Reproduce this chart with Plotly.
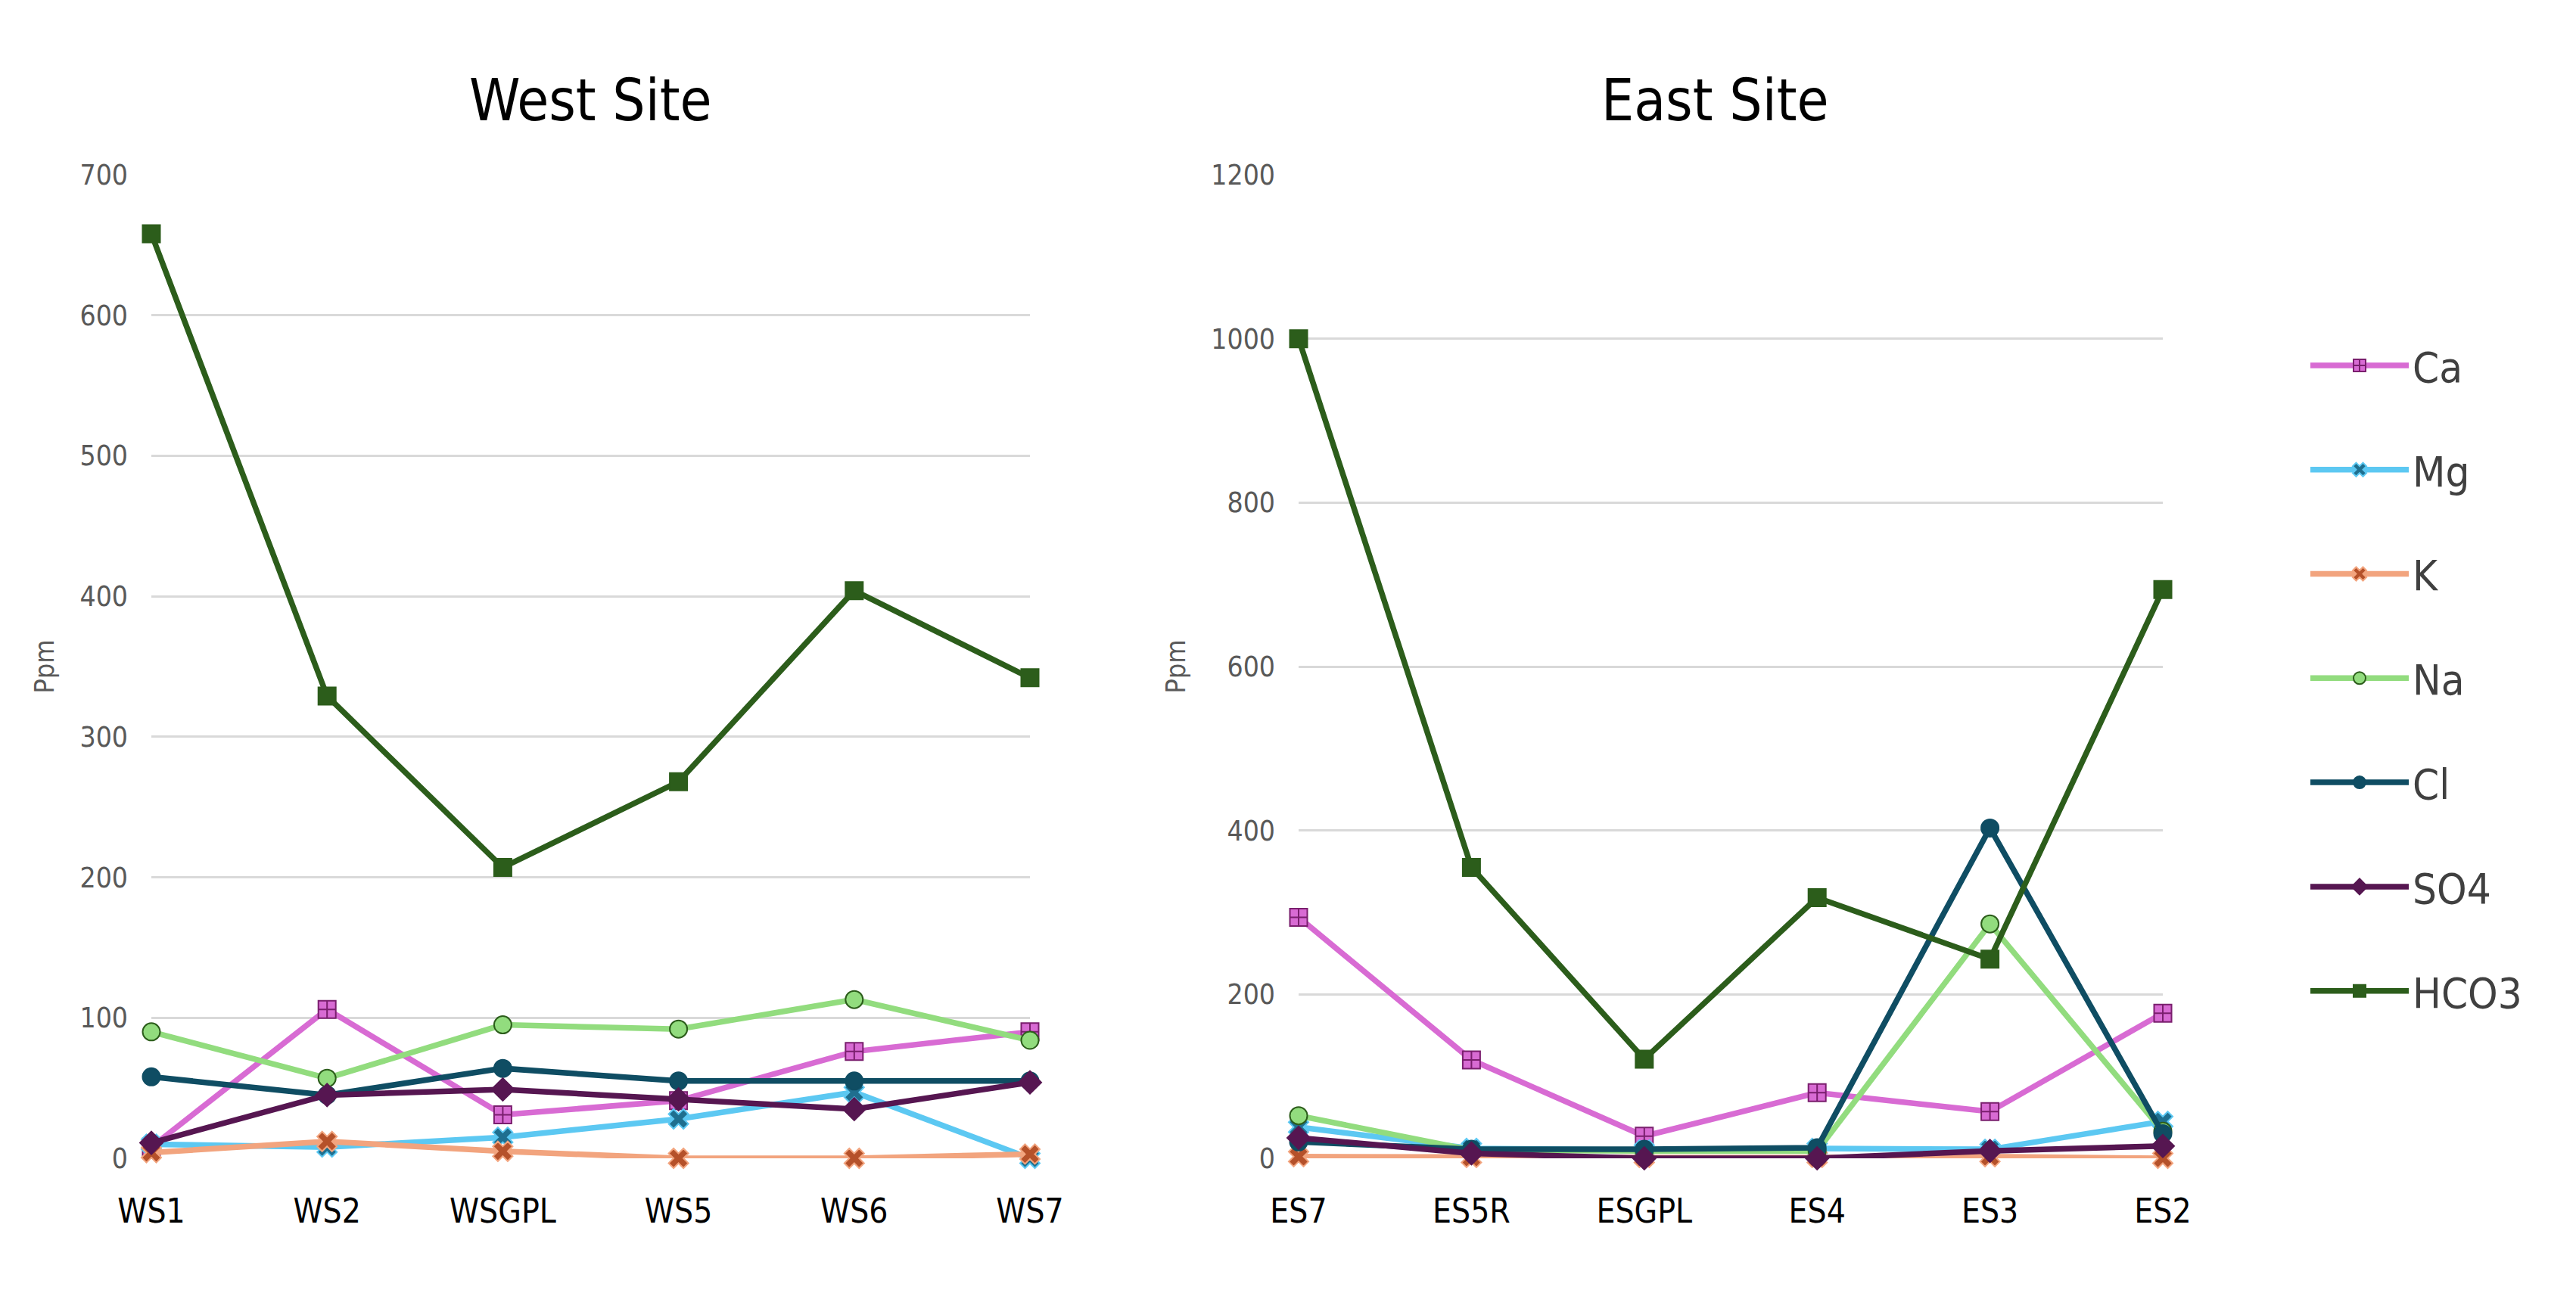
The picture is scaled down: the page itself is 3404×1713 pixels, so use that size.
import plotly.graph_objects as go

# ---- data ----
west_sites = ["WS1", "WS2", "WSGPL", "WS5", "WS6", "WS7"]
east_sites = ["ES7", "ES5R", "ESGPL", "ES4", "ES3", "ES2"]

ions = ["Ca", "Mg", "K", "Na", "Cl", "SO4", "HCO3"]

west_Ca = [8, 106, 31, 41, 76, 90]
west_Mg = [10, 8, 15, 28, 47, 0]
west_K = [4, 12, 5, 0, 0, 3]
west_Na = [90, 57, 95, 92, 113, 84]
west_Cl = [58, 45, 64, 55, 55, 55]
west_SO4 = [11, 45, 49, 42, 35, 54]
west_HCO3 = [658, 329, 207, 268, 404, 342]

east_Ca = [294, 120, 27, 80, 57, 177]
east_Mg = [38, 12, 10, 12, 11, 45]
east_K = [2, 1, 1, 1, 2, 0]
east_Na = [52, 10, 9, 9, 286, 33]
east_Cl = [20, 11, 11, 13, 403, 30]
east_SO4 = [25, 6, 0, 0, 9, 15]
east_HCO3 = [1000, 355, 121, 318, 243, 694]

west_y_ticks = [0, 100, 200, 300, 400, 500, 600, 700]
east_y_ticks = [0, 200, 400, 600, 800, 1000, 1200]

west_vals = [west_Ca, west_Mg, west_K, west_Na, west_Cl, west_SO4, west_HCO3]
east_vals = [east_Ca, east_Mg, east_K, east_Na, east_Cl, east_SO4, east_HCO3]

# ---- styles ----
line_colors = {"Ca": "#D86BD3", "Mg": "#5CC8F2", "K": "#F2A47E", "Na": "#92DC7E",
               "Cl": "#0F4D63", "SO4": "#561651", "HCO3": "#2C5D1B"}
marker_symbols = {"Ca": "square-cross", "Mg": "x", "K": "x", "Na": "circle",
                  "Cl": "circle", "SO4": "diamond", "HCO3": "square"}
marker_fill = {"Ca": "#D86BD3", "Mg": "#1F6F8F", "K": "#B5512A", "Na": "#92DC7E",
               "Cl": "#0F4D63", "SO4": "#561651", "HCO3": "#2C5D1B"}
marker_edge = {"Ca": "#7A1F6E", "Mg": "#5CC8F2", "K": "#F2A47E", "Na": "#2C5D1B",
               "Cl": "#0F4D63", "SO4": "#561651", "HCO3": "#2C5D1B"}

FONT = "Liberation Sans Narrow, DejaVu Sans Condensed, Arial Narrow, sans-serif"
W, H = 3404, 1713

fig = go.Figure()

for i, ion in enumerate(ions):
    for sites, vals, xa, ya, show in [(west_sites, west_vals[i], "x", "y", True),
                                      (east_sites, east_vals[i], "x2", "y2", False)]:
        fig.add_trace(go.Scatter(
            x=sites, y=vals, xaxis=xa, yaxis=ya, name=ion,
            mode="lines+markers", legendgroup=ion, showlegend=show,
            cliponaxis=False,
            line=dict(color=line_colors[ion], width=7.5),
            marker=dict(symbol=marker_symbols[ion], size=23,
                        color=marker_fill[ion],
                        line=dict(color=marker_edge[ion], width=2)),
        ))

def px_x(p):
    return p / W

def px_y(p):
    return 1 - p / H

ydom = [px_y(1523), px_y(223)]

axis_common = dict(showgrid=True, gridcolor="#D9D9D9", gridwidth=3,
                   showline=False, zeroline=False, automargin=False)

xcommon = dict(type="category", showgrid=False, zeroline=False, showline=False,
               tickfont=dict(size=44, color="#000000"), ticks="",
               ticklabelstandoff=40, automargin=False)

fig.update_layout(
    width=W, height=H,
    margin=dict(l=0, r=0, t=0, b=0, autoexpand=False),
    paper_bgcolor="white", plot_bgcolor="white",
    font=dict(family=FONT, color="#000000"),
    xaxis=dict(domain=[px_x(192), px_x(1353)], range=[0, len(west_sites) - 1], **xcommon),
    xaxis2=dict(domain=[px_x(1708), px_x(2850)], range=[0, len(east_sites) - 1], **xcommon),
    yaxis=dict(domain=ydom, range=[0, 700], tickvals=west_y_ticks,
               tickfont=dict(size=37, color="#595959"), ticklabelstandoff=30,
               title=dict(text="Ppm", font=dict(size=36, color="#595959"), standoff=22),
               **axis_common),
    yaxis2=dict(domain=ydom, range=[0, 1200], tickvals=east_y_ticks, anchor="x2",
                tickfont=dict(size=37, color="#595959"), ticklabelstandoff=30,
                title=dict(text="Ppm", font=dict(size=36, color="#595959"), standoff=22),
                **axis_common),
    legend=dict(x=px_x(3040), y=px_y(432), xanchor="left", yanchor="top",
                font=dict(size=56, color="#404040"), tracegroupgap=62,
                bgcolor="rgba(0,0,0,0)", itemwidth=130),
    annotations=[
        dict(text="West Site", x=(px_x(192) + px_x(1353)) / 2, y=px_y(124),
             xref="paper", yref="paper", showarrow=False,
             xanchor="center", yanchor="middle",
             font=dict(size=76, color="#000000", family=FONT)),
        dict(text="East Site", x=(px_x(1708) + px_x(2850)) / 2 - 0.006, y=px_y(124),
             xref="paper", yref="paper", showarrow=False,
             xanchor="center", yanchor="middle",
             font=dict(size=76, color="#000000", family=FONT)),
    ],
)

fig.write_html("out.html")
